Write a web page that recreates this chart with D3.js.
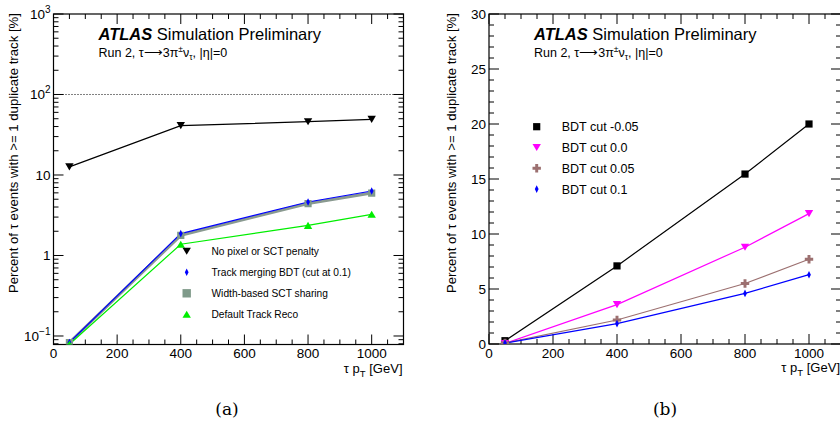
<!DOCTYPE html>
<html><head><meta charset="utf-8">
<script src="https://cdn.jsdelivr.net/npm/d3@7"></script>
<style>
body{margin:0;background:#fff;}
svg{display:block;font-family:"Liberation Sans",Arial,sans-serif;}
</style></head>
<body><svg id="c" width="840" height="424"></svg>
<script>
// ---------- data ----------
const ptValues = [50, 400, 800, 1000];
// panel (a)
const noPenalty   = [12.6, 41.0, 45.9, 49.0];
const trackMerge  = [0.083, 1.87, 4.62, 6.33];
const widthShare  = [0.083, 1.78, 4.42, 5.97];
const defaultReco = [0.079, 1.38, 2.37, 3.25];
const legendA = ["No pixel or SCT penalty", "Track merging BDT (cut at 0.1)", "Width-based SCT sharing", "Default Track Reco"];
// panel (b)
const bdtM005 = [0.3, 7.1, 15.45, 20.0];
const bdt000  = [0.05, 3.58, 8.8, 11.85];
const bdt005  = [0.1, 2.18, 5.5, 7.7];
const bdt010  = [0.08, 1.85, 4.6, 6.3];
const legendB = ["BDT cut -0.05", "BDT cut 0.0", "BDT cut 0.05", "BDT cut 0.1"];
const xTicks = [0, 200, 400, 600, 800, 1000];
const yTicksB = [0, 5, 10, 15, 20, 25, 30];
const yTicksA = [0.1, 1, 10, 100, 1000];
const yLabel = "Percent of \u03c4 events with >= 1 duplicate track [%]";

const svg = d3.select("#c");

// marker paths
function mk(type, s){
  if(type==="tdown") return `M${-s},${-s*0.85}L${s},${-s*0.85}L0,${s*0.85}Z`;
  if(type==="tup") return `M${-s},${s*0.85}L${s},${s*0.85}L0,${-s*0.85}Z`;
  if(type==="square") return `M${-s},${-s}H${s}V${s}H${-s}Z`;
  if(type==="diamond") return `M0,${-s}L${s*0.5},0L0,${s}L${-s*0.5},0Z`;
  if(type==="cross"){const a=s, b=s*0.35; return `M${-b},${-a}H${b}V${-b}H${a}V${b}H${b}V${a}H${-b}V${b}H${-a}V${-b}H${-b}Z`;}
}

function panel(o){
  const g = svg.append("g");
  const x = o.x, y = o.y;
  const [x0,x1] = x.range(), [yb,yt] = y.range();
  const cid = "clip"+o.id;
  svg.append("clipPath").attr("id",cid).append("rect").attr("x",x0).attr("y",yt).attr("width",x1-x0).attr("height",yb-yt);

  // x ticks (bottom & top)
  d3.range(0, 1101, 50).forEach(v=>{
    const L = v%200===0?10:5;
    const px = x(v);
    g.append("line").attr("x1",px).attr("x2",px).attr("y1",yb).attr("y2",yb-L).attr("stroke","#000");
    g.append("line").attr("x1",px).attr("x2",px).attr("y1",yt).attr("y2",yt+L).attr("stroke","#000");
  });
  xTicks.forEach(v=>{
    g.append("text").attr("x",x(v)).attr("y",yb+13.5).attr("text-anchor","middle")
      .attr("font-size",13.5).text(v);
  });
  if(o.log){
    const minors=[];
    for(let e=-2;e<3;e++) for(let m=1;m<10;m++){const v=m*Math.pow(10,e); if(v>=y.domain()[0]&&v<=1000) minors.push([v,m===1]);}
    minors.push([1000,true]);
    minors.forEach(([v,maj])=>{
      const L = maj?10:5, py=y(v);
      g.append("line").attr("x1",x0).attr("x2",x0+L).attr("y1",py).attr("y2",py).attr("stroke","#000");
      g.append("line").attr("x1",x1).attr("x2",x1-L).attr("y1",py).attr("y2",py).attr("stroke","#000");
    });
    const labs = [["10","\u22121"],["1",null],["10",null],["10","2"],["10","3"]];
    yTicksA.forEach((v,i)=>{
      const t = g.append("text").attr("x",x0-3).attr("y",y(v)+5).attr("text-anchor","end").attr("font-size",13.5);
      t.append("tspan").text(labs[i][0]);
      if(labs[i][1]) t.append("tspan").attr("dy",-6).attr("font-size",10).text(labs[i][1]);
    });
    g.append("line").attr("x1",x0).attr("x2",x1).attr("y1",y(100)).attr("y2",y(100))
      .attr("stroke","#000").attr("stroke-dasharray","1,2").attr("stroke-width",1);
  } else {
    d3.range(0,31,1).forEach(v=>{
      const L = v%5===0?10:5, py=y(v);
      g.append("line").attr("x1",x0).attr("x2",x0+L).attr("y1",py).attr("y2",py).attr("stroke","#000");
      g.append("line").attr("x1",x1).attr("x2",x1-L).attr("y1",py).attr("y2",py).attr("stroke","#000");
    });
    yTicksB.forEach(v=>{
      g.append("text").attr("x",x0-3).attr("y",y(v)+5).attr("text-anchor","end").attr("font-size",13.5).text(v);
    });
  }
  g.append("rect").attr("x",x0).attr("y",yt).attr("width",x1-x0).attr("height",yb-yt)
    .attr("fill","none").attr("stroke","#000").attr("stroke-width",1.2);

  // series
  const line = d3.line().x((d,i)=>x(ptValues[i])).y(d=>y(d));
  const sg = g.append("g").attr("clip-path",`url(#${cid})`);
  o.series.forEach(s=>{
    sg.append("path").attr("d",line(s.values)).attr("fill","none").attr("stroke",s.lineColor||s.color).attr("stroke-width",s.lw||1.2);
  });
  o.series.forEach(s=>{
    s.values.forEach((v,i)=>{
      sg.append("path").attr("d",mk(s.marker,s.size)).attr("fill",s.color)
        .attr("transform",`translate(${x(ptValues[i])},${y(v)})`);
    });
  });
  // legend
  o.series.forEach(s=>{
    const i = s.leg;
    const lx=o.legend.mx, ly=o.legend.y0+i*o.legend.dy;
    g.append("path").attr("d",mk(s.marker,s.legSize||s.size)).attr("fill",s.color).attr("transform",`translate(${lx},${ly})`);
    g.append("text").attr("x",o.legend.tx).attr("y",ly+o.legend.fs*0.36).attr("font-size",o.legend.fs).text(o.legendText[i]);
  });

  // ATLAS label
  const t = g.append("text").attr("x",x0+45).attr("y",40).attr("font-size",16.5);
  t.append("tspan").attr("font-weight","bold").attr("font-style","italic").text("ATLAS");
  t.append("tspan").text(" Simulation Preliminary");
  const r = g.append("text").attr("x",x0+45).attr("y",57).attr("font-size",12.5);
  r.append("tspan").text("Run 2, \u03c4\u27f6");
  r.append("tspan").text("3\u03c0");
  r.append("tspan").attr("dy",-5).attr("font-size",8.5).text("\u00b1");
  r.append("tspan").attr("dy",5).text("\u03bd");
  r.append("tspan").attr("dy",3).attr("font-size",8.5).text("\u03c4");
  r.append("tspan").attr("dy",-3).text(", |\u03b7|=0");

  // axis titles
  g.append("text").attr("transform",`translate(${o.ylx},${yt-1}) rotate(-90)`).attr("text-anchor","end")
    .attr("font-size",13.2).text(yLabel);
  const xt = g.append("text").attr("x",x1-1).attr("y",yb+28).attr("text-anchor","end").attr("font-size",13);
  xt.append("tspan").text("\u03c4 p");
  xt.append("tspan").attr("dy",4).attr("font-size",9.5).text("T");
  xt.append("tspan").attr("dy",-4).text(" [GeV]");

  // caption
  svg.append("text").attr("x",o.capx).attr("y",415).attr("text-anchor","middle")
    .attr("font-family","'DejaVu Serif','Liberation Serif',serif").attr("font-size",17).text(o.caption);
}

panel({
  id:"a",
  x: d3.scaleLinear().domain([0,1100]).range([53.5,403.5]),
  y: d3.scaleLog().domain([0.0784,1000]).range([344.5,14]),
  log:true,
  series:[
    {values:noPenalty, color:"#000", marker:"tdown", size:4.2, leg:0},
    {values:widthShare, color:"#7f9a8a", lineColor:"#8a9a90", marker:"square", size:3.6, legSize:4.2, lw:3, leg:2},
    {values:trackMerge, color:"#0000ff", marker:"diamond", size:3.8, leg:1},
    {values:defaultReco, color:"#00ee00", marker:"tup", size:4.2, leg:3}
  ],
  legendText:legendA,
  legend:{mx:186.7, tx:211.5, y0:251.3, dy:21, fs:10.2},
  ylx:18, capx:227, caption:"(a)"
});

panel({
  id:"b",
  x: d3.scaleLinear().domain([0,1100]).range([489,841]),
  y: d3.scaleLinear().domain([0,30]).range([344,14]),
  log:false,
  series:[
    {values:bdtM005, color:"#000", marker:"square", size:3.6, leg:0},
    {values:bdt000, color:"#ff00ff", marker:"tdown", size:4.2, leg:1},
    {values:bdt005, color:"#9c7070", marker:"cross", size:4.2, leg:2},
    {values:bdt010, color:"#0000ff", marker:"diamond", size:3.8, leg:3}
  ],
  legendText:legendB,
  legend:{mx:536.7, tx:561.7, y0:126.7, dy:20.8, fs:12.5},
  ylx:456, capx:665, caption:"(b)"
});
</script></body></html>
